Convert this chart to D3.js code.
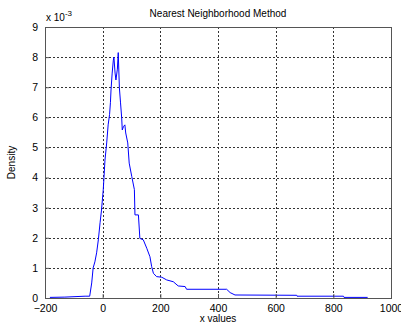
<!DOCTYPE html>
<html>
<head>
<meta charset="utf-8">
<script src="https://cdn.jsdelivr.net/npm/d3@7"></script>
<style>
  body { margin: 0; background: #fff; }
  text { font-family: Arial, "Liberation Sans", sans-serif; }
</style>
</head>
<body>
<svg width="401" height="327"></svg>
<script>
// density estimate, values in units of 1e-3
const xValues = [-183, -131, -61, -45, -38, -33, -27, -21, -15, -9, -4, 2, 4.5, 8, 14, 19, 24, 27, 29, 33, 37, 39, 43, 46, 51, 54, 58, 62, 66, 68, 72, 77, 80, 87, 92, 101, 110, 112, 124, 129, 141, 153, 164, 170, 176, 187, 205, 222, 245, 262, 286, 291, 430, 442, 459, 673, 674, 835, 837, 919]
const density = [0.02, 0.03, 0.06, 0.06, 0.5, 1.0, 1.2, 1.5, 1.93, 2.5, 2.92, 3.59, 3.99, 4.58, 5.15, 5.75, 6.1, 6.5, 6.91, 7.47, 7.9, 8.0, 7.47, 7.24, 7.6, 8.15, 6.98, 6.48, 5.98, 5.58, 5.69, 5.75, 5.48, 5.15, 4.48, 4.03, 3.6, 2.76, 2.76, 1.98, 1.93, 1.65, 1.37, 1.04, 0.82, 0.71, 0.69, 0.6, 0.54, 0.4, 0.38, 0.29, 0.29, 0.18, 0.1, 0.09, 0.06, 0.06, 0.02, 0.02]
const xTicks = [-200, 0, 200, 400, 600, 800, 1000]
const yTicks = [0, 1, 2, 3, 4, 5, 6, 7, 8, 9]

const svg = d3.select('svg')
const margin = {top: 27, right: 10, bottom: 29, left: 45}
const width = 401 - margin.left - margin.right
const height = 327 - margin.top - margin.bottom
const g = svg.append('g').attr('transform', 'translate(' + margin.left + ',' + margin.top + ')')

const x = d3.scaleLinear().domain([-200, 1000]).range([0, width])
const y = d3.scaleLinear().domain([0, 9]).range([height, 0])

// grid
g.append('g').selectAll('line')
  .data(xTicks.slice(1, -1))
  .enter().append('line')
    .attr('x1', d => Math.round(x(d)) + 0.5).attr('x2', d => Math.round(x(d)) + 0.5)
    .attr('y1', 0).attr('y2', height)
    .attr('stroke', '#333').attr('stroke-dasharray', '2,2')

g.append('g').selectAll('line')
  .data(yTicks.slice(1, -1))
  .enter().append('line')
    .attr('y1', d => Math.round(y(d)) + 0.5).attr('y2', d => Math.round(y(d)) + 0.5)
    .attr('x1', 0).attr('x2', width)
    .attr('stroke', '#333').attr('stroke-dasharray', '2,2')

// curve
const line = d3.line().x((d, i) => x(xValues[i])).y(d => y(d))
g.append('path')
  .datum(density)
  .attr('fill', 'none')
  .attr('stroke', '#0000ff')
  .attr('stroke-width', 1)
  .attr('d', line)

// box
g.append('rect')
  .attr('x', 0.5).attr('y', 0.5)
  .attr('width', width).attr('height', height)
  .attr('fill', 'none').attr('stroke', '#555')

// axes
const xAxis = g.append('g')
  .attr('transform', 'translate(0,' + height + ')')
  .call(d3.axisBottom(x).tickValues(xTicks).tickFormat(d3.format('d')).tickSize(-4).tickPadding(7))
const yAxis = g.append('g')
  .call(d3.axisLeft(y).tickValues(yTicks).tickFormat(d3.format('d')).tickSize(-4).tickPadding(7))

;[xAxis, yAxis].forEach(a => {
  a.select('.domain').remove()
  a.selectAll('line').attr('stroke', '#555')
  a.selectAll('text').attr('font-size', 10.5).attr('fill', '#000')
    .attr('font-family', 'Arial, "Liberation Sans", sans-serif')
})

// labels
svg.append('text')
  .attr('x', margin.left + width / 2).attr('y', 17)
  .attr('text-anchor', 'middle').attr('font-size', 10)
  .text('Nearest Neighborhood Method')

svg.append('text')
  .attr('x', margin.left + width / 2).attr('y', 322)
  .attr('text-anchor', 'middle').attr('font-size', 10)
  .text('x values')

svg.append('text')
  .attr('transform', 'translate(15,' + (margin.top + height / 2) + ') rotate(-90)')
  .attr('text-anchor', 'middle').attr('font-size', 10)
  .text('Density')

const mult = svg.append('text')
  .attr('x', 46).attr('y', 21).attr('font-size', 10)
mult.append('tspan').text('x 10')
mult.append('tspan').attr('dy', -5).attr('font-size', 8).text('-3')
</script>
</body>
</html>
